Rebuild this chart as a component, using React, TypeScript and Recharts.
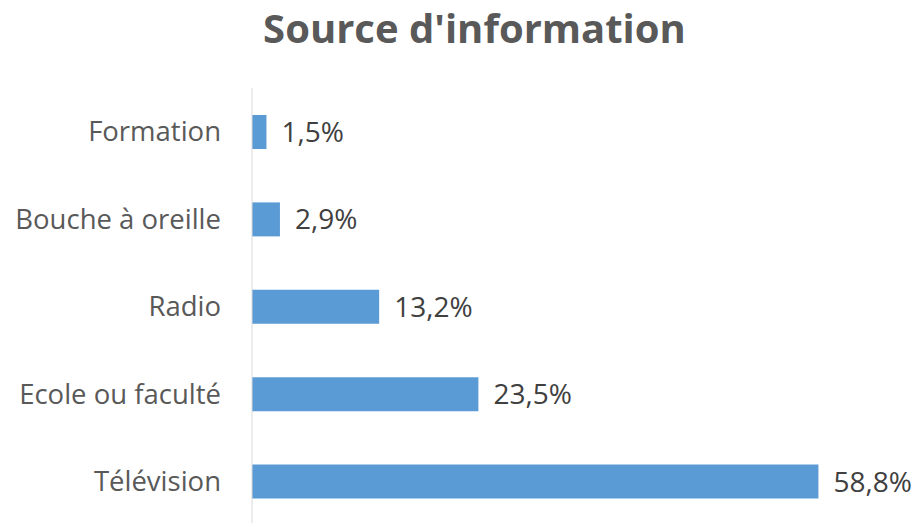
import { BarChart, Bar, XAxis, YAxis, LabelList } from 'recharts'

const sources = ['Formation', 'Bouche à oreille', 'Radio', 'Ecole ou faculté', 'Télévision']
const percents = [1.5, 2.9, 13.2, 23.5, 58.8]

const chartData = sources.map((source, i) => ({ source, percent: percents[i] }))

const font = '"Open Sans", sans-serif'

export default function App() {
  return (
    <div style={{ position: 'absolute', left: 0, top: 0, width: 917, height: 523, overflow: 'hidden', background: '#fff', fontFamily: font }}>
      <div
        style={{
          position: 'absolute',
          left: 0,
          top: 0,
          width: 917,
          paddingLeft: 32,
          boxSizing: 'border-box',
          textAlign: 'center',
          fontSize: 40,
          fontWeight: 700,
          color: '#595959',
          lineHeight: '56px',
        }}
      >
        Source d'information
      </div>
      <BarChart
        width={917}
        height={530}
        data={chartData}
        layout="vertical"
        margin={{ top: 88, right: 87, bottom: 5, left: 0 }}
      >
        <XAxis type="number" domain={[0, 60]} hide />
        <YAxis
          type="category"
          dataKey="source"
          width={252}
          axisLine={{ stroke: '#d9d9d9' }}
          tickLine={false}
          tickSize={0}
          tickMargin={31}
          tick={{ fill: '#595959', fontSize: 27.5, fontFamily: font }}
        />
        <Bar dataKey="percent" fill="#5b9bd5" barSize={34} isAnimationActive={false}>
          <LabelList
            dataKey="percent"
            position="right"
            offset={15}
            formatter={(v: number) => `${String(v).replace('.', ',')}%`}
            style={{ fill: '#404040', fontSize: 28, fontFamily: font }}
          />
        </Bar>
      </BarChart>
    </div>
  )
}
